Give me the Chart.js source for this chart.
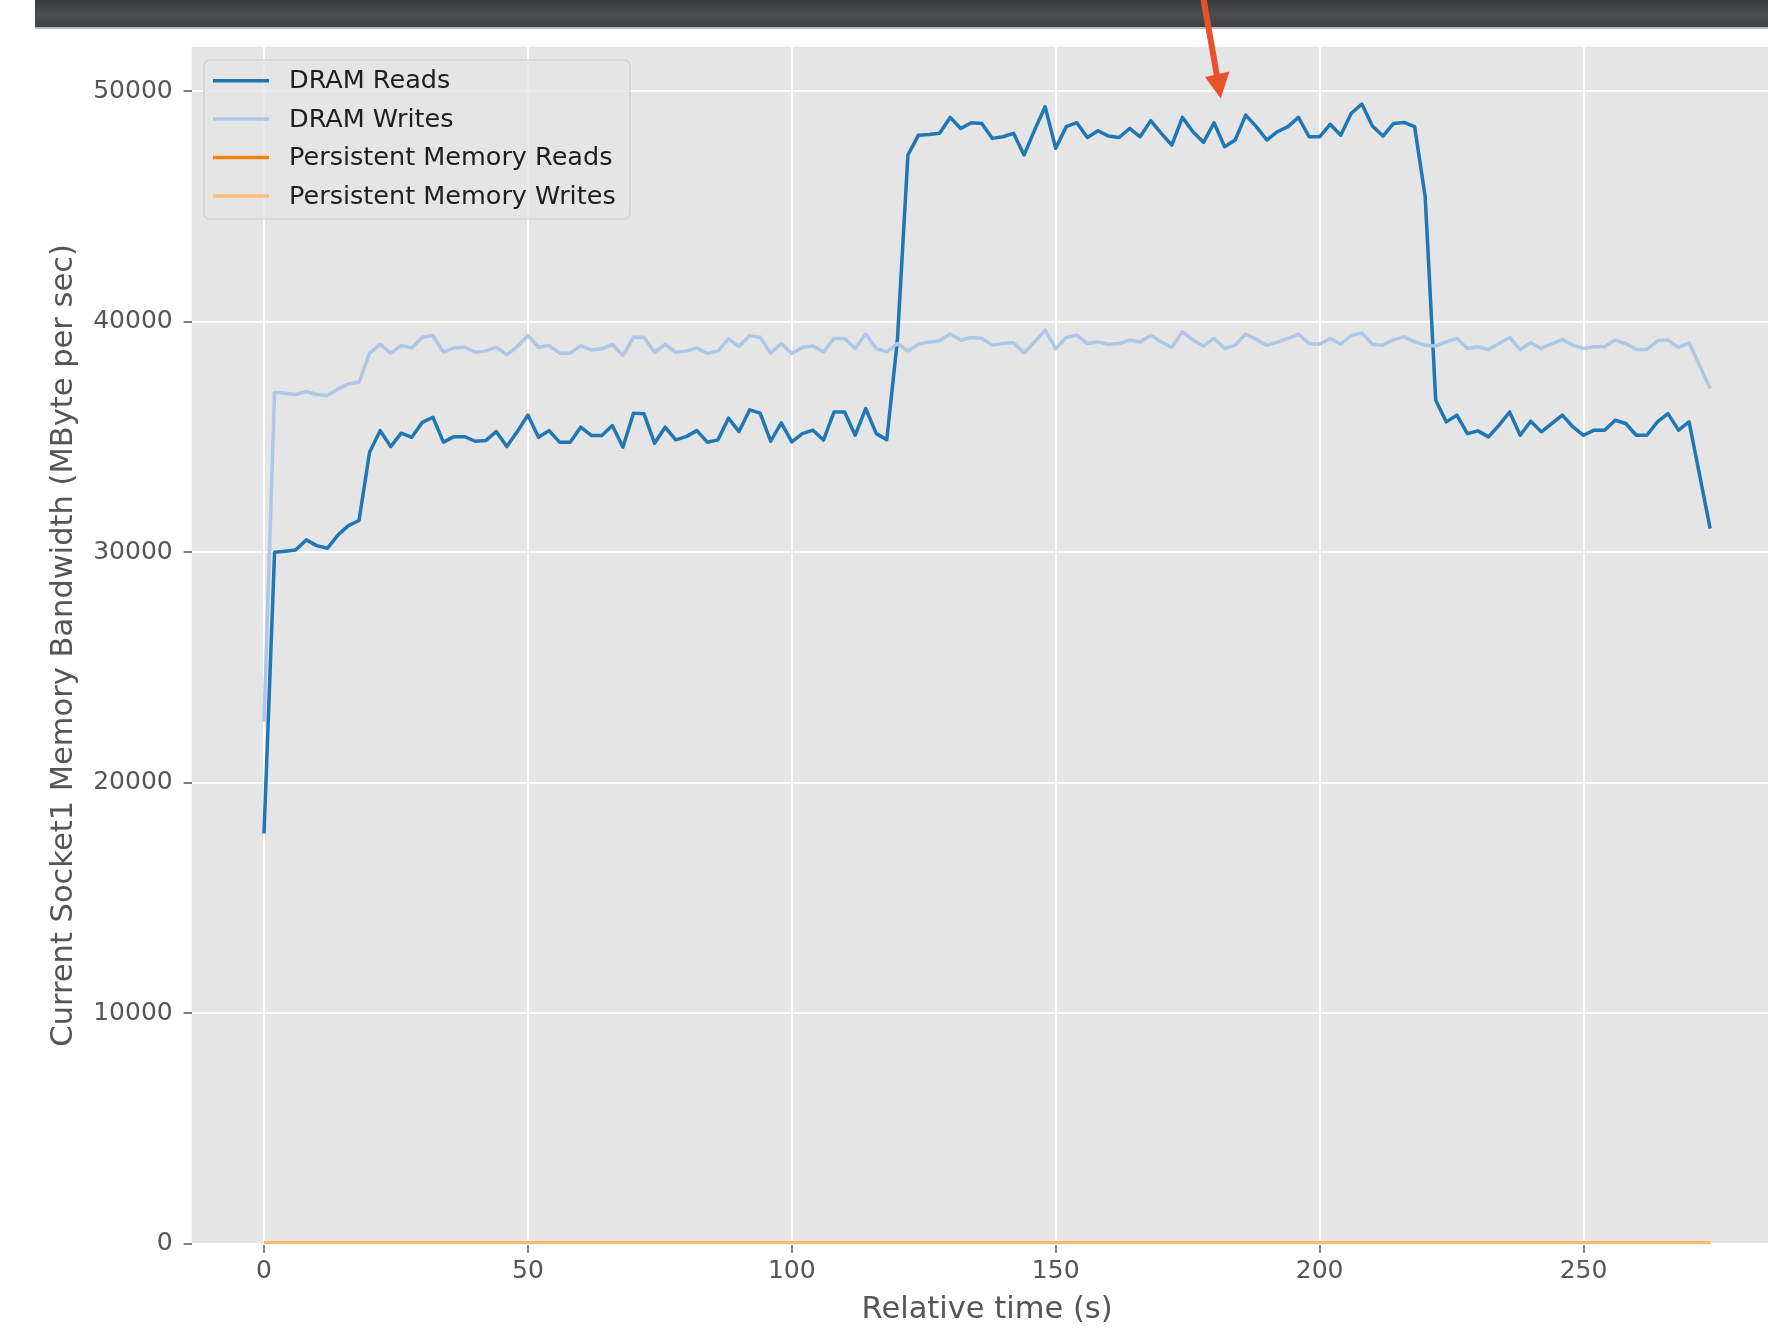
<!DOCTYPE html>
<html>
<head>
<meta charset="utf-8">
<script src="https://cdn.jsdelivr.net/npm/chart.js@4.4.1/dist/chart.umd.min.js"></script>
<style>
html,body{margin:0;padding:0;background:#ffffff;}
body{width:1768px;height:1340px;overflow:hidden;position:relative;}
#topbar{position:absolute;left:35px;top:0;width:1733px;height:27px;background:linear-gradient(#383b3e 0%,#4b4f52 55%,#3e4144 100%);}
#topline{position:absolute;left:35px;top:27px;width:1733px;height:2px;background:#b7bbbe;}
#wrap{position:absolute;left:0;top:0;width:1790px;height:1340px;}
#arrow{position:absolute;left:0;top:0;z-index:5;}
</style>
</head>
<body>
<div id="topbar"></div>
<div id="topline"></div>
<div id="wrap"><canvas id="c" width="1790" height="1340"></canvas></div>
<svg id="arrow" width="1768" height="120">
  <line x1="1203.3" y1="-2" x2="1216.8" y2="75" stroke="#e8522a" stroke-width="6"/>
  <polygon points="1205,77 1229.5,71.5 1220.7,98.5" fill="#e8522a"/>
</svg>
<script>
// ---- Data ----
const times = [0,2,4,6,8,10,12,14,16,18,20,22,24,26,28,30,32,34,36,38,40,42,44,46,48,50,52,54,56,58,60,62,64,66,68,70,72,74,76,78,80,82,84,86,88,90,92,94,96,98,100,102,104,106,108,110,112,114,116,118,120,122,124,126,128,130,132,134,136,138,140,142,144,146,148,150,152,154,156,158,160,162,164,166,168,170,172,174,176,178,180,182,184,186,188,190,192,194,196,198,200,202,204,206,208,210,212,214,216,218,220,222,224,226,228,230,232,234,236,238,240,242,244,246,248,250,252,254,256,258,260,262,264,266,268,270,272,274];

const dramReads = [17800,30000,30050,30100,30540,30290,30175,30750,31160,31380,
  34340,35280,34590,35170,34990,35640,35860,34780,35020,35020,
  34820,34850,35240,34590,35240,35960,34990,35280,34780,34780,
  35430,35070,35070,35500,34560,36040,36010,34730,35430,34880,
  35020,35280,34780,34880,35820,35240,36180,36040,34820,35620,
  34790,35150,35300,34870,36090,36090,35080,36240,35150,34890,
  39200,47240,48100,48130,48180,48870,48390,48640,48610,47960,
  48030,48180,47240,48320,49330,47530,48470,48640,48000,48290,
  48060,48000,48390,48030,48730,48180,47670,48870,48250,47790,
  48640,47600,47890,48970,48470,47890,48250,48470,48870,48030,
  48030,48570,48100,49050,49450,48500,48060,48610,48650,48470,
  45430,36600,35660,35950,35150,35270,35010,35520,36090,35080,
  35690,35230,35590,35950,35440,35080,35300,35300,35730,35590,
  35080,35080,35660,36020,35300,35660,33350,31030];

const dramWrites = [22650,36950,36900,36850,36980,36850,36800,37090,37310,37380,
  38640,39020,38640,38970,38870,39330,39410,38680,38870,38900,
  38680,38730,38900,38580,38930,39410,38900,38970,38640,38640,
  38970,38780,38830,39020,38540,39330,39330,38680,39020,38680,
  38730,38870,38640,38730,39260,38930,39410,39330,38640,39060,
  38630,38890,38950,38700,39280,39280,38840,39470,38840,38700,
  39060,38740,39030,39130,39180,39470,39210,39320,39280,38990,
  39060,39090,38650,39130,39640,38840,39320,39420,39060,39130,
  39030,39060,39210,39130,39420,39130,38890,39570,39210,38950,
  39280,38840,38990,39470,39240,38990,39120,39280,39470,39060,
  39030,39280,39030,39420,39520,39030,38990,39230,39350,39130,
  38990,38950,39130,39280,38840,38920,38800,39060,39320,38800,
  39090,38840,39060,39230,38990,38840,38920,38920,39210,39060,
  38800,38800,39180,39210,38890,39090,38110,37110];

const pmemReads = [0,0,0,0,0,0,0,0,0,0, 0,0,0,0,0,0,0,0,0,0, 0,0,0,0,0,0,0,0,0,0,
  0,0,0,0,0,0,0,0,0,0, 0,0,0,0,0,0,0,0,0,0, 0,0,0,0,0,0,0,0,0,0,
  0,0,0,0,0,0,0,0,0,0, 0,0,0,0,0,0,0,0,0,0, 0,0,0,0,0,0,0,0,0,0,
  0,0,0,0,0,0,0,0,0,0, 0,0,0,0,0,0,0,0,0,0, 0,0,0,0,0,0,0,0,0,0,
  0,0,0,0,0,0,0,0,0,0, 0,0,0,0,0,0,0,0];

const pmemWrites = [0,0,0,0,0,0,0,0,0,0, 0,0,0,0,0,0,0,0,0,0, 0,0,0,0,0,0,0,0,0,0,
  0,0,0,0,0,0,0,0,0,0, 0,0,0,0,0,0,0,0,0,0, 0,0,0,0,0,0,0,0,0,0,
  0,0,0,0,0,0,0,0,0,0, 0,0,0,0,0,0,0,0,0,0, 0,0,0,0,0,0,0,0,0,0,
  0,0,0,0,0,0,0,0,0,0, 0,0,0,0,0,0,0,0,0,0, 0,0,0,0,0,0,0,0,0,0,
  0,0,0,0,0,0,0,0,0,0, 0,0,0,0,0,0,0,0];

const seriesNames = ['DRAM Reads','DRAM Writes','Persistent Memory Reads','Persistent Memory Writes'];
const seriesColors = ['#1f77b4','#aec7e8','#ff7f0e','#ffbb78'];
const xTickValues = [0,50,100,150,200,250];
const yTickValues = [0,10000,20000,30000,40000,50000];
const xLabel = 'Relative time (s)';
const yLabel = 'Current Socket1 Memory Bandwidth (MByte per sec)';

// ---- Chart ----
Chart.defaults.font.family = '"DejaVu Sans", sans-serif';

const allSeries = [dramReads, dramWrites, pmemReads, pmemWrites];
const datasets = allSeries.map((vals, i) => ({
  label: seriesNames[i],
  data: times.map((t, k) => ({x: t, y: vals[k]})),
  borderColor: seriesColors[i],
  backgroundColor: seriesColors[i],
  borderWidth: i < 2 ? 3.5 : 5,
  pointRadius: 0,
  tension: 0,
  fill: false,
  borderJoinStyle: 'round',
  clip: 0,
  order: 4 - i
}));

const bgPlugin = {
  id: 'axesBg',
  beforeDraw(chart) {
    const {ctx, chartArea: a} = chart;
    ctx.save();
    ctx.fillStyle = '#e5e5e5';
    ctx.fillRect(a.left, a.top, a.right - a.left, a.bottom - a.top);
    ctx.restore();
  }
};

const legendPlugin = {
  id: 'mplLegend',
  afterDatasetsDraw(chart) {
    const ctx = chart.ctx;
    const x0 = 204, y0 = 60, w = 426, h = 159;
    ctx.save();
    ctx.beginPath();
    ctx.roundRect(x0, y0, w, h, 6);
    ctx.fillStyle = 'rgba(229,229,229,0.8)';
    ctx.fill();
    ctx.strokeStyle = 'rgba(204,204,204,0.8)';
    ctx.lineWidth = 1.5;
    ctx.stroke();
    chart.data.datasets.forEach((ds, i) => {
      const y = 80.7 + i * 38.4;
      ctx.strokeStyle = ds.borderColor;
      ctx.lineWidth = 3.5;
      ctx.beginPath();
      ctx.moveTo(213, y);
      ctx.lineTo(269, y);
      ctx.stroke();
      ctx.fillStyle = '#1e1e1e';
      ctx.font = '25.5px "DejaVu Sans"';
      ctx.textBaseline = 'middle';
      ctx.textAlign = 'left';
      ctx.fillText(ds.label, 289, y + 1);
    });
    ctx.restore();
  }
};

new Chart(document.getElementById('c'), {
  type: 'line',
  data: { datasets },
  options: {
    responsive: false,
    animation: false,
    devicePixelRatio: 1,
    layout: { padding: { top: 47, right: 7.5, left: 0, bottom: 0 } },
    plugins: { legend: { display: false }, tooltip: { enabled: false } },
    scales: {
      x: {
        type: 'linear',
        min: -13.7,
        max: 287.7,
        afterBuildTicks: s => { s.ticks = xTickValues.map(v => ({value: v})); },
        afterFit: s => { s.height = 96.2; },
        border: { display: false },
        grid: { color: '#ffffff', lineWidth: 2, drawTicks: true, tickLength: 9, tickColor: '#555555', tickWidth: 1.5 },
        ticks: { font: { size: 25 }, color: '#555555', padding: 4, maxRotation: 0, autoSkip: false, callback: v => String(v) },
        title: { display: true, text: xLabel, font: { size: 30.5 }, color: '#555555', padding: { top: 0, bottom: 12 } }
      },
      y: {
        type: 'linear',
        min: 0,
        max: 51925,
        afterBuildTicks: s => { s.ticks = yTickValues.map(v => ({value: v})); },
        afterFit: s => { s.width = 191.7; },
        border: { display: false },
        grid: { color: '#ffffff', lineWidth: 2, drawTicks: true, tickLength: 8, tickColor: '#555555', tickWidth: 1.5 },
        ticks: { font: { size: 25 }, color: '#555555', padding: 11, autoSkip: false, callback: v => String(v) },
        title: { display: true, text: yLabel, font: { size: 30.5 }, color: '#555555', padding: { top: 45.7, bottom: 0 } }
      }
    }
  },
  plugins: [bgPlugin, legendPlugin]
});
</script>
</body>
</html>
